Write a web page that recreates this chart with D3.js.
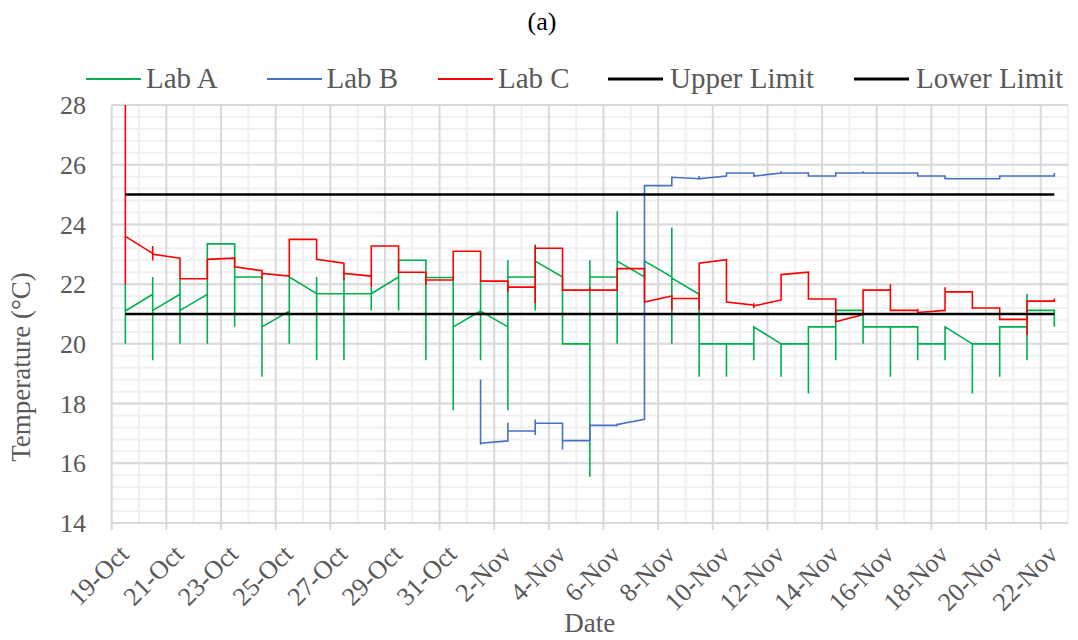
<!DOCTYPE html>
<html>
<head>
<meta charset="utf-8">
<script src="https://cdn.jsdelivr.net/npm/d3@7"></script>
<style>
body { margin: 0; background: #fff; }
svg text { font-family: "Liberation Serif", "Times New Roman", Times, "DejaVu Serif", serif; fill: #595959; }
</style>
</head>
<body>
<div class="temp_chart"></div>
<script>
var outerW = 1078,
	outerH = 640;
var plot = {left: 111.7, right: 1068, top: 105, bottom: 523};
var fontFamily = "'Liberation Serif', 'Times New Roman', Times, 'DejaVu Serif', serif";

// Categories (one slot per day)
var dates = ["19-Oct", "20-Oct", "21-Oct", "22-Oct", "23-Oct", "24-Oct", "25-Oct", "26-Oct",
	"27-Oct", "28-Oct", "29-Oct", "30-Oct", "31-Oct", "1-Nov", "2-Nov", "3-Nov", "4-Nov",
	"5-Nov", "6-Nov", "7-Nov", "8-Nov", "9-Nov", "10-Nov", "11-Nov", "12-Nov", "13-Nov",
	"14-Nov", "15-Nov", "16-Nov", "17-Nov", "18-Nov", "19-Nov", "20-Nov", "21-Nov", "22-Nov"];

var yTicks = [14, 16, 18, 20, 22, 24, 26, 28];

// Readings per day, in order (several readings share one date)
var labA = [
	[22.0, 20.0, 21.1], [21.66, 22.24, 19.45, 21.12], [21.66, 22.2, 20.0, 21.12],
	[21.66, 20.0, 23.35], [23.35, 20.57, 22.24], [22.24, 18.9, 20.57], [21.1, 20.0, 22.24],
	[21.68, 22.24, 19.45, 21.68], [21.68, 22.2, 19.45, 21.68], [21.68, 21.9, 21.12, 21.68],
	[22.24, 21.12, 22.8], [22.8, 19.45, 22.22], [22.22, 17.78, 20.57], [21.1, 22.1, 19.45, 21.1],
	[20.57, 17.78, 22.8, 22.24], [22.24, 21.12, 23.33, 22.77], [22.24, 20.0],
	[20.0, 15.55, 22.8, 22.24], [22.24, 24.44, 20.0, 22.77], [22.24, 22.77],
	[22.24, 23.9, 20.0, 22.2], [21.66, 18.9, 20.0], [20.0, 18.9, 20.0], [20.0, 19.45, 20.57],
	[20.0, 18.9, 20.0], [20.0, 18.34, 20.57], [20.57, 19.45, 21.12], [21.12, 20.0, 20.57],
	[20.57, 18.9, 20.57], [20.57, 19.45, 20.0], [20.0, 19.45, 20.57], [20.0, 18.34, 20.0],
	[20.0, 18.9, 20.57], [20.57, 21.68, 19.45, 21.12], [21.12, 20.57]
];

var labB = [
	null, null, null, null, null, null, null, null, null, null, null, null, null,
	[18.81, 16.62, 16.67], [16.75, 17.36, 17.08], [17.08, 16.95, 17.47, 17.34],
	[17.34, 16.46, 16.76], [16.76, 17.27], [17.27, 17.33, 17.3], [17.47, 25.3],
	[25.3, 25.58], [25.53, 25.62, 25.5, 25.53], [25.62, 25.72], [25.72, 25.62],
	[25.72, 25.78, 25.72], [25.72, 25.62], [25.62, 25.72], [25.72, 25.78, 25.72],
	[25.72], [25.72, 25.62], [25.62, 25.53], [25.53], [25.53, 25.62], [25.62],
	[25.62, 25.72]
];

var labC = [
	[22.0, 28, 23.6], [23.03, 23.28, 22.79, 23.0], [22.87, 22.18], [22.18, 22.83],
	[22.87, 22.58], [22.45, 22.16, 22.36], [22.27, 23.5], [23.5, 22.83],
	[22.7, 22.14, 22.36], [22.27, 21.9, 23.28], [23.28, 22.4], [22.4, 21.97, 22.14],
	[22.14, 23.1], [23.1, 22.1], [22.1, 21.74, 21.9], [21.9, 21.36, 23.3, 23.2],
	[23.2, 21.8], [21.8, 21.9, 21.8], [21.8, 22.52], [22.52, 21.4], [21.6, 21.12, 21.52],
	[21.52, 21.13, 22.7], [22.82, 21.4], [21.3, 21.36, 21.19, 21.27], [21.47, 22.32],
	[22.4, 21.5], [21.5, 20.74], [20.98, 21.8], [21.8, 22.0, 21.12], [21.12, 21.18, 21.05],
	[21.12, 21.9, 21.74], [21.74, 21.2], [21.2, 20.82], [20.82, 20.3, 21.43],
	[21.43, 21.52, 21.4]
];

var upperLimit = 25;
var lowerLimit = 21;

var seriesNames = ["Lab A", "Lab B", "Lab C", "Upper Limit", "Lower Limit"];
var seriesColors = ["#00b050", "#4472c4", "#ff0000", "#000000", "#000000"];

var svg = d3.select(".temp_chart")
	.append("svg")
	.attr("width", outerW)
	.attr("height", outerH)
	.attr("font-family", fontFamily);

var x = d3.scaleBand()
	.domain(dates)
	.range([plot.left, plot.right]);
var y = d3.scaleLinear()
	.domain([14, 28])
	.range([plot.bottom, plot.top]);

function xc(d) { return x(d) + x.bandwidth() / 2; }

/********************************************************************
 * Gridlines
 ********************************************************************/

var minorY = d3.range(14.4, 28, 0.4);
svg.append("g").selectAll("line")
	.data(minorY)
	.join("line")
	.attr("x1", plot.left).attr("x2", plot.right)
	.attr("y1", d => y(d)).attr("y2", d => y(d))
	.attr("stroke", "#f0f0f0")
	.attr("stroke-width", 2);

svg.append("g").selectAll("line")
	.data(dates.filter((d, i) => i % 2 == 1).concat(["end"]))
	.join("line")
	.attr("x1", d => d == "end" ? plot.right : x(d))
	.attr("x2", d => d == "end" ? plot.right : x(d))
	.attr("y1", plot.top).attr("y2", plot.bottom)
	.attr("stroke", "#f0f0f0")
	.attr("stroke-width", 2);

svg.append("g").selectAll("line")
	.data(yTicks)
	.join("line")
	.attr("x1", plot.left).attr("x2", plot.right)
	.attr("y1", d => y(d)).attr("y2", d => y(d))
	.attr("stroke", "#d9d9d9")
	.attr("stroke-width", 2);

// major verticals every two days, with tick marks below the axis
var majorDates = dates.filter((d, i) => i % 2 == 0);
svg.append("g").selectAll("line")
	.data(majorDates)
	.join("line")
	.attr("x1", d => x(d)).attr("x2", d => x(d))
	.attr("y1", plot.top).attr("y2", plot.bottom + 7)
	.attr("stroke", "#d9d9d9")
	.attr("stroke-width", 2);

/********************************************************************
 * Series
 ********************************************************************/

svg.append("clipPath")
	.attr("id", "plot_clip")
	.append("rect")
	.attr("x", plot.left).attr("y", plot.top - 1)
	.attr("width", plot.right - plot.left)
	.attr("height", plot.bottom - plot.top + 1);

function toPoints(series) {
	var pts = [];
	series.forEach(function(vals, i) {
		if (!vals) return;
		vals.forEach(function(v) { pts.push({date: dates[i], v: v}); });
	});
	return pts;
}

var line = d3.line()
	.x(d => xc(d.date))
	.y(d => y(d.v));

[labA, labB, labC].forEach(function(series, i) {
	svg.append("path")
		.attr("d", line(toPoints(series)))
		.attr("clip-path", "url(#plot_clip)")
		.attr("fill", "none")
		.attr("stroke", seriesColors[i])
		.attr("stroke-width", 1.6);
});

[upperLimit, lowerLimit].forEach(function(lim) {
	svg.append("path")
		.attr("d", line(dates.map(d => ({date: d, v: lim}))))
		.attr("fill", "none")
		.attr("stroke", "#000")
		.attr("stroke-width", 2.6);
});

/********************************************************************
 * Axes text
 ********************************************************************/

svg.append("g").selectAll("text")
	.data(yTicks)
	.join("text")
	.attr("x", 86)
	.attr("y", d => y(d))
	.attr("dy", "0.35em")
	.attr("font-family", fontFamily)
	.style("text-anchor", "end")
	.style("font-size", "26px")
	.text(d => d);

svg.append("g").selectAll("text")
	.data(majorDates)
	.join("text")
	.attr("transform", d => "translate(" + (xc(d) + 5) + ",556) rotate(-45)")
	.attr("font-family", fontFamily)
	.style("text-anchor", "end")
	.style("font-size", "26px")
	.text(d => d);

svg.append("text")
	.attr("x", (plot.left + plot.right) / 2)
	.attr("y", 632)
	.attr("font-family", fontFamily)
	.style("text-anchor", "middle")
	.style("font-size", "27px")
	.text("Date");

svg.append("text")
	.attr("transform", "translate(30,367) rotate(-90)")
	.attr("font-family", fontFamily)
	.style("text-anchor", "middle")
	.style("font-size", "27px")
	.text("Temperature (°C)");

svg.append("text")
	.attr("x", 542)
	.attr("y", 30)
	.attr("font-family", fontFamily)
	.style("text-anchor", "middle")
	.style("font-size", "26px")
	.style("fill", "#000")
	.text("(a)");

/********************************************************************
 * Legend
 ********************************************************************/

var legendLineX = [86, 267, 438, 608, 854];
var legendTextX = [146, 326.5, 498, 670, 916];

seriesNames.forEach(function(name, i) {
	svg.append("line")
		.attr("x1", legendLineX[i]).attr("x2", legendLineX[i] + 55)
		.attr("y1", 79).attr("y2", 79)
		.attr("stroke", seriesColors[i])
		.attr("stroke-width", i > 2 ? 3 : 2);
	svg.append("text")
		.attr("x", legendTextX[i])
		.attr("y", 88)
		.attr("font-family", fontFamily)
		.style("font-size", "29px")
		.text(name);
});
</script>
</body>
</html>
